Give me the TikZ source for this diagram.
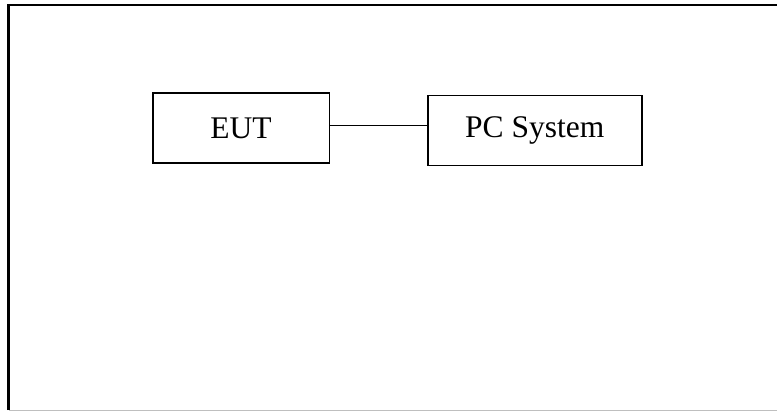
\documentclass[tikz,border=0pt]{standalone}
\usepackage{fontspec}
\setmainfont{Liberation Serif}
\begin{document}
\begin{tikzpicture}[x=1pt,y=-1pt,
  blk/.style={draw,line width=1.6pt,inner sep=0pt,font=\fontsize{31.5}{36}\selectfont}]
\useasboundingbox (0,0) rectangle (777,412);
\fill[white] (0,0) rectangle (777,412);
\draw[line width=2.2pt] (8.5,410) -- (8.5,5) -- (777,5);
\draw[line width=1pt,black!25] (8.5,410.5) -- (777,410.5);
\node[blk,minimum width=176.6pt,minimum height=69.4pt] (eut) at (241,128) {EUT};
\node[blk,minimum width=214pt,minimum height=69.6pt] (pc) at (534.7,130.5) {PC System};
\coordinate (pcw) at (pc.west |- 0,125.3);
\draw[line width=1.5pt] (eut.east |- pcw) -- (pcw);
\end{tikzpicture}
\end{document}
